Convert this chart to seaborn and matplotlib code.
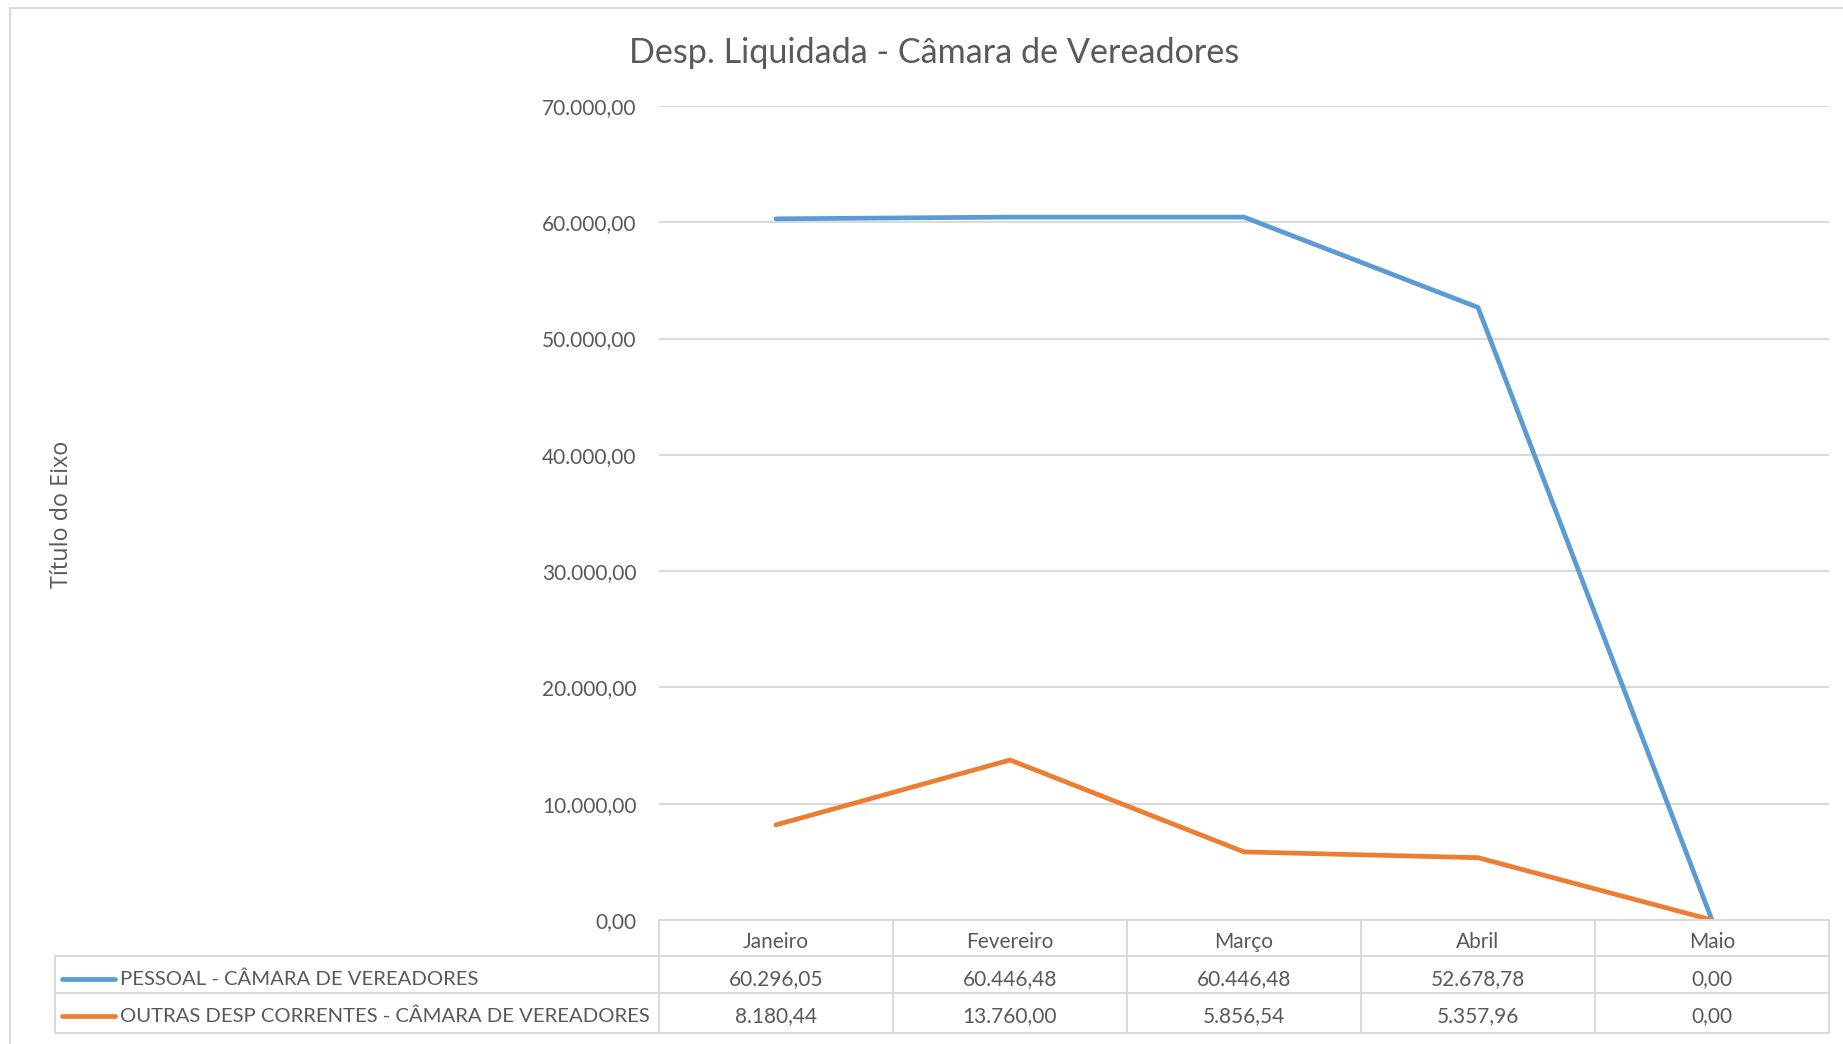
import matplotlib
matplotlib.use("Agg")
import matplotlib.pyplot as plt
import seaborn as sns
import pandas as pd
from matplotlib.transforms import blended_transform_factory
from matplotlib.lines import Line2D
from matplotlib.patches import Rectangle

# ---- data ----
months = ["Janeiro", "Fevereiro", "Março", "Abril", "Maio"]
pessoal = [60296.05, 60446.48, 60446.48, 52678.78, 0.00]
outras = [8180.44, 13760.00, 5856.54, 5357.96, 0.00]
series_names = ["PESSOAL - CÂMARA DE VEREADORES",
                "OUTRAS DESP CORRENTES - CÂMARA DE VEREADORES"]
colors = ["#5B9BD5", "#ED7D31"]
yticks = [0, 10000, 20000, 30000, 40000, 50000, 60000, 70000]
title = "Desp. Liquidada - Câmara de Vereadores"
ylabel = "Título do Eixo"

def br(v):
    s = f"{v:,.2f}"
    return s.replace(",", "X").replace(".", ",").replace("X", ".")

df = pd.DataFrame({
    "Mês": months * 2,
    "Valor": pessoal + outras,
    "Série": [series_names[0]] * 5 + [series_names[1]] * 5,
})

sns.set_theme(style="white")
plt.rcParams["font.family"] = ["Lato", "DejaVu Sans"]
TXT = "#595959"
GRID = "#D9D9D9"

W, H = 1843, 1044
fig = plt.figure(figsize=(W / 100, H / 100), dpi=100)
fig.patch.set_facecolor("white")

def fx(px):
    return px / W

def fy(py):
    return 1 - py / H

L, R, T, B = 659, 1829, 106, 920
ax = fig.add_axes([fx(L), fy(B), fx(R - L), (B - T) / H])

sns.lineplot(data=df, x="Mês", y="Valor", hue="Série", palette=colors,
             linewidth=3.4, ax=ax, legend=False, sort=False)

ax.set_xlim(-0.5, len(months) - 0.5)
ax.set_ylim(0, 70000)
ax.set_yticks(yticks)
ax.set_yticklabels([br(v) for v in yticks], color=TXT, fontsize=15)
ax.set_xticks([])
ax.set_xlabel("")
ax.set_ylabel("")
ax.tick_params(axis="y", length=0, pad=16)
for s in ax.spines.values():
    s.set_visible(False)
ax.grid(axis="y", color=GRID, linewidth=1.4)
ax.set_axisbelow(True)

# frame of the chart area
fig.add_artist(Rectangle((fx(10), fy(1060)), 1.0, (1060 - 8) / H,
                         transform=fig.transFigure, fill=False,
                         edgecolor=GRID, linewidth=1.4))

# title and axis title
fig.text(fx(934), fy(53), title, ha="center", va="center", fontsize=24.6, color=TXT)
fig.text(fx(62), fy(514), ylabel, ha="center", va="center", rotation=90,
         fontsize=16.8, color=TXT, family=["Open Sans", "DejaVu Sans"])

# ---- data table ----
tr = blended_transform_factory(ax.transData, fig.transFigure)
lw = 1.4
for yy in (956, 993, 1033):
    fig.add_artist(Line2D([fx(55), fx(R)], [fy(yy), fy(yy)], color=GRID, lw=lw,
                          transform=fig.transFigure))
fig.add_artist(Line2D([fx(L), fx(R)], [fy(920), fy(920)], color=GRID, lw=lw,
                      transform=fig.transFigure))
fig.add_artist(Line2D([fx(55), fx(55)], [fy(956), fy(1033)], color=GRID, lw=lw,
                      transform=fig.transFigure))
for i in range(len(months) + 1):
    fig.add_artist(Line2D([i - 0.5, i - 0.5], [fy(920), fy(1033)], color=GRID, lw=lw,
                          transform=tr))

header_y = fy(942)
row_ys = [fy(979), fy(1016)]
for i, m in enumerate(months):
    fig.text(i, header_y, m, transform=tr, ha="center", va="center", fontsize=15, color=TXT)
for vals, yy in zip([pessoal, outras], row_ys):
    for i, v in enumerate(vals):
        fig.text(i, yy, br(v), transform=tr, ha="center", va="center", fontsize=15, color=TXT)

for name, c, yy in zip(series_names, colors, row_ys):
    fig.add_artist(Line2D([fx(62), fx(115)], [yy, yy], color=c, lw=3.4,
                          solid_capstyle="round", transform=fig.transFigure))
    fig.text(fx(120), yy, name, ha="left", va="center", fontsize=14.6, color=TXT)

fig.savefig("out.png", dpi=100, facecolor="white")
